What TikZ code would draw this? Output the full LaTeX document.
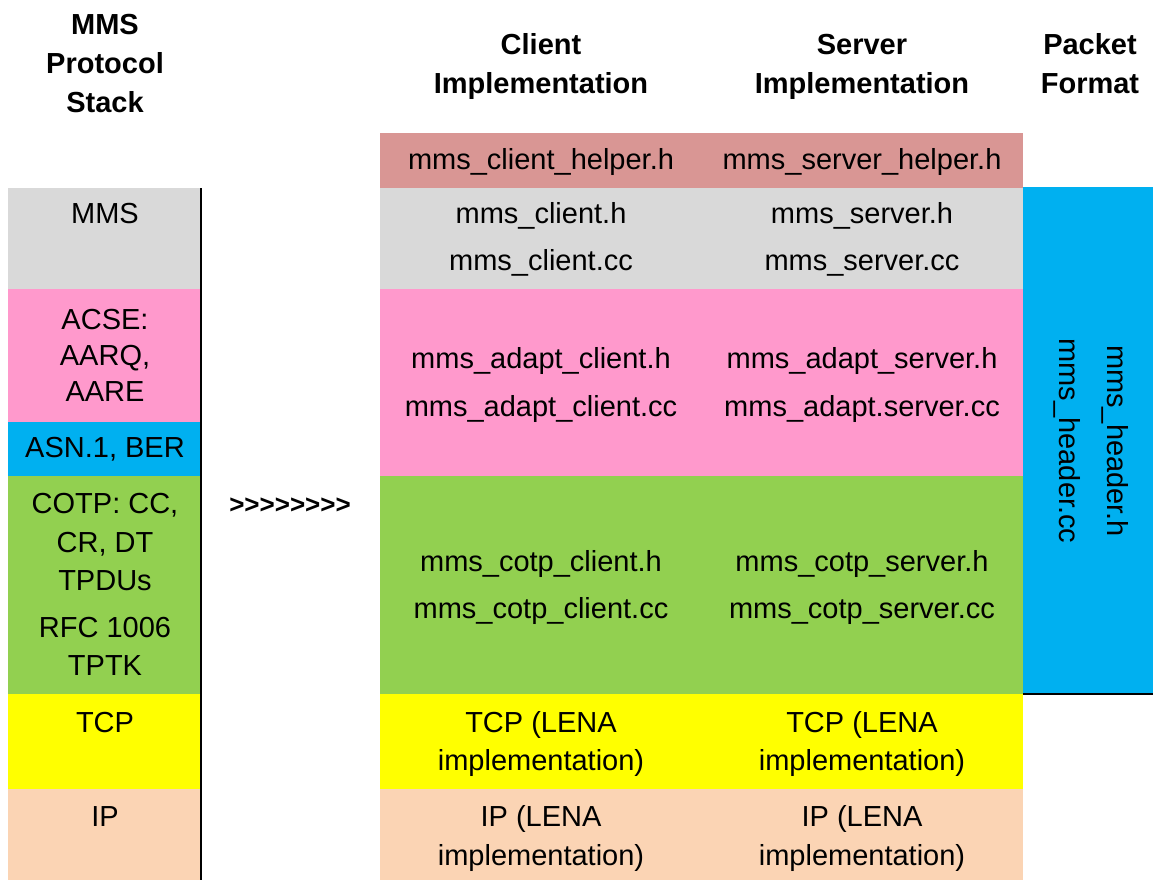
\documentclass[tikz,border=0pt]{standalone}
\usepackage{fontspec}
\setmainfont{Liberation Sans}
\definecolor{rosec}{HTML}{D99694}
\definecolor{grayc}{HTML}{D9D9D9}
\definecolor{pinkc}{HTML}{FF99CC}
\definecolor{bluec}{HTML}{00B0F0}
\definecolor{greenc}{HTML}{92D050}
\definecolor{yellowc}{HTML}{FFFF00}
\definecolor{peachc}{HTML}{FBD4B4}
\newcommand{\gtk}{>\kern0pt}
\begin{document}
\begin{tikzpicture}[x=1pt,y=-1pt,
  txt/.style={anchor=base,inner sep=0pt,font=\fontsize{29}{39}\selectfont},
  hdr/.style={anchor=base,inner sep=0pt,font=\fontsize{29}{39}\selectfont\bfseries},
  rule/.style={draw=black,line width=2pt}]
\useasboundingbox (0,0) rectangle (1153,880);
% left column cells
\fill[grayc]   (8,188)   rectangle (200,289);
\fill[pinkc]   (8,289)   rectangle (200,422);
\fill[bluec]   (8,422)   rectangle (200,476);
\fill[greenc]  (8,476)   rectangle (200,693.5);
\fill[yellowc] (8,693.5) rectangle (200,789);
\fill[peachc]  (8,789)   rectangle (200,880);
% middle cells
\fill[rosec]   (380,133)   rectangle (1023,188);
\fill[grayc]   (380,188)   rectangle (1023,289);
\fill[pinkc]   (380,289)   rectangle (1023,476);
\fill[greenc]  (380,476)   rectangle (1023,693.5);
\fill[yellowc] (380,693.5) rectangle (1023,789);
\fill[peachc]  (380,789)   rectangle (1023,880);
% right column
\fill[bluec] (1023,187) rectangle (1153,694.3);
\coordinate (vt) at (201,188);
\coordinate (vb) at (201,880);
\draw[rule] (vt) -- (vb);
\coordinate (hl) at (1023,694.3);
\coordinate (hr) at (1153,694.3);
\draw[rule] (hl) -- (hr);
% headers
\node[hdr] (h1a) at (105,35)  {MMS};
\node[hdr] (h1b) at (105,74)  {Protocol};
\node[hdr] (h1c) at (105,113) {Stack};
\node[hdr] (h2a) at (541,55)  {Client};
\node[hdr] (h2b) at (541,94)  {Implementation};
\node[hdr] (h3a) at (862,55)  {Server};
\node[hdr] (h3b) at (862,94)  {Implementation};
\node[hdr] (h4a) at (1090,55) {Packet};
\node[hdr] (h4b) at (1090,94) {Format};
% left column text
\node[txt] (l1)  at (105,223) {MMS};
\node[txt] (l2a) at (105,329) {ACSE:};
\node[txt] (l2b) at (105,365) {AARQ,};
\node[txt] (l2c) at (105,401) {AARE};
\node[txt] (l3)  at (105,457) {ASN.1, BER};
\node[txt] (l4a) at (105,513) {COTP: CC,};
\node[txt] (l4b) at (105,552) {CR, DT};
\node[txt] (l4c) at (105,590) {TPDUs};
\node[txt] (l4d) at (105,637) {RFC 1006};
\node[txt] (l4e) at (105,675) {TPTK};
\node[txt] (l5)  at (105,732) {TCP};
\node[txt] (l6)  at (105,826) {IP};
% arrows
\node[anchor=base,inner sep=0pt,font=\fontsize{26}{30}\selectfont\bfseries] (arr) at (290,513) {\gtk\gtk\gtk\gtk\gtk\gtk\gtk>};
% client column
\node[txt] (c0)  at (541,169) {mms\_client\_helper.h};
\node[txt] (c1a) at (541,223) {mms\_client.h};
\node[txt] (c1b) at (541,270) {mms\_client.cc};
\node[txt] (c2a) at (541,368) {mms\_adapt\_client.h};
\node[txt] (c2b) at (541,416) {mms\_adapt\_client.cc};
\node[txt] (c3a) at (541,571) {mms\_cotp\_client.h};
\node[txt] (c3b) at (541,618) {mms\_cotp\_client.cc};
\node[txt] (c4a) at (541,732) {TCP (LENA};
\node[txt] (c4b) at (541,770) {implementation)};
\node[txt] (c5a) at (541,826) {IP (LENA};
\node[txt] (c5b) at (541,865) {implementation)};
% server column
\node[txt] (s0)  at (862,169) {mms\_server\_helper.h};
\node[txt] (s1a) at (862,223) {mms\_server.h};
\node[txt] (s1b) at (862,270) {mms\_server.cc};
\node[txt] (s2a) at (862,368) {mms\_adapt\_server.h};
\node[txt] (s2b) at (862,416) {mms\_adapt.server.cc};
\node[txt] (s3a) at (862,571) {mms\_cotp\_server.h};
\node[txt] (s3b) at (862,618) {mms\_cotp\_server.cc};
\node[txt] (s4a) at (862,732) {TCP (LENA};
\node[txt] (s4b) at (862,770) {implementation)};
\node[txt] (s5a) at (862,826) {IP (LENA};
\node[txt] (s5b) at (862,865) {implementation)};
% packet format
\node[txt,rotate=-90] (p1) at (1107,441) {mms\_header.h};
\node[txt,rotate=-90] (p2) at (1059,441) {mms\_header.cc};
\end{tikzpicture}
\end{document}
